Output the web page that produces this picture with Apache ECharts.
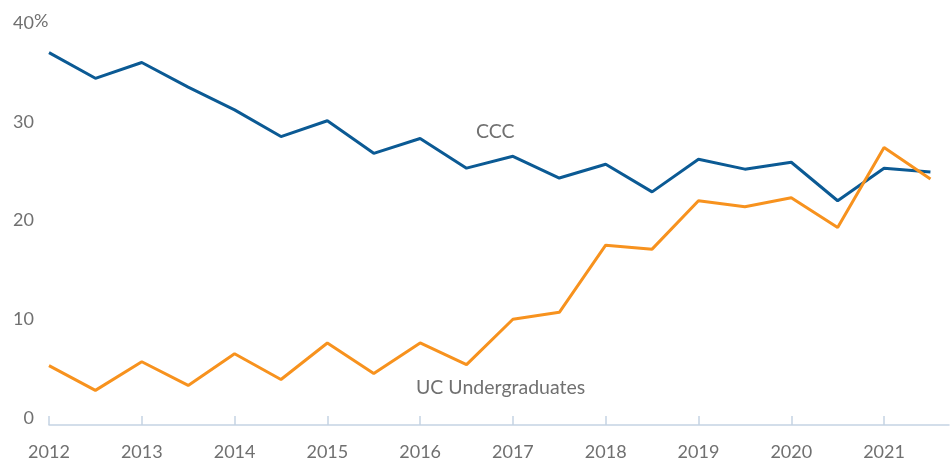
<!DOCTYPE html>
<html>
<head>
<meta charset="utf-8">
<script src="https://cdn.jsdelivr.net/npm/echarts@6/dist/echarts.min.js"></script>
<style>
  html, body { margin: 0; padding: 0; background: #fff; }
  #chart { width: 950px; height: 463px; }
</style>
</head>
<body>
<div id="chart"></div>
<script>
// half-year points, 2012 to 2021.5
const years = [2012, 2012.5, 2013, 2013.5, 2014, 2014.5, 2015, 2015.5, 2016, 2016.5,
               2017, 2017.5, 2018, 2018.5, 2019, 2019.5, 2020, 2020.5, 2021, 2021.5];
const ccc = [37.0, 34.4, 36.0, 33.5, 31.2, 28.5, 30.1, 26.8, 28.3, 25.3,
             26.5, 24.3, 25.7, 22.9, 26.2, 25.2, 25.9, 22.0, 25.3, 24.9];
const ucUndergrad = [5.3, 2.8, 5.7, 3.3, 6.5, 3.9, 7.6, 4.5, 7.6, 5.4,
                     10.0, 10.7, 17.5, 17.1, 22.0, 21.4, 22.3, 19.3, 27.4, 24.2];
const yTicks = [0, 10, 20, 30, 40];

const font = 'Lato, "Open Sans", sans-serif';
const grey = '#707070';

let chart = echarts.init(document.getElementById('chart'));

let option = {
    animation: false,
    grid: { left: 49, right: 1, top: 23, bottom: 45 },
    xAxis: {
        type: 'value',
        min: 2012,
        max: 2021.7,
        interval: 1,
        offset: 7,
        splitLine: { show: false },
        axisLine: { onZero: false, lineStyle: { color: '#c5d3e3', width: 1.5 } },
        axisTick: { inside: true, length: 9, lineStyle: { color: '#c5d3e3', width: 1.5 } },
        axisLabel: {
            color: grey, fontFamily: font, fontSize: 18, margin: 18,
            showMaxLabel: false,
            formatter: v => Number.isInteger(v) ? String(v) : ''
        }
    },
    yAxis: {
        type: 'value',
        min: 0,
        max: 40,
        interval: 10,
        splitLine: { show: false },
        axisLine: { show: false },
        axisTick: { show: false },
        axisLabel: {
            color: grey, fontFamily: font, fontSize: 18, margin: 15,
            formatter: v => yTicks.includes(v) ? String(v) : ''
        }
    },
    graphic: [
        { type: 'text', left: 34, top: 12, style: { text: '%', fill: grey, font: '18px ' + font } },
        { type: 'text', left: 476, top: 122, style: { text: 'CCC', fill: grey, font: '19.5px ' + font } },
        { type: 'text', left: 416, top: 378, style: { text: 'UC Undergraduates', fill: grey, font: '19.5px ' + font } }
    ],
    series: [
        {
            name: 'CCC',
            type: 'line',
            data: years.map((y, i) => [y, ccc[i]]),
            symbol: 'none',
            lineStyle: { color: '#0b5a94', width: 3 }
        },
        {
            name: 'UC Undergraduates',
            type: 'line',
            data: years.map((y, i) => [y, ucUndergrad[i]]),
            symbol: 'none',
            lineStyle: { color: '#f7921e', width: 3 }
        }
    ]
};

chart.setOption(option);
</script>
</body>
</html>
